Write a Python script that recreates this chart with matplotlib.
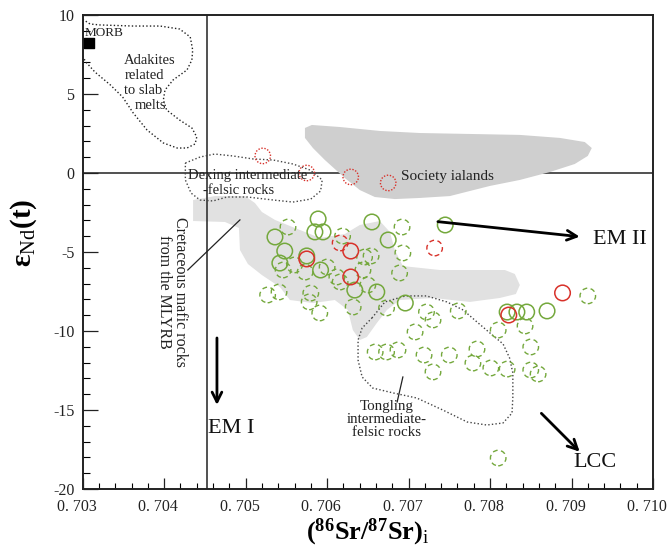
import matplotlib
matplotlib.use('Agg')
import matplotlib.pyplot as plt
from matplotlib.patches import Polygon
from matplotlib.ticker import FixedLocator, MultipleLocator
from matplotlib.transforms import ScaledTranslation

plt.rcParams['font.family'] = ['Liberation Serif', 'DejaVu Serif']
plt.rcParams['mathtext.fontset'] = 'custom'
plt.rcParams['mathtext.rm'] = 'Liberation Serif'
plt.rcParams['mathtext.it'] = 'Liberation Serif:italic'
plt.rcParams['mathtext.bf'] = 'Liberation Serif:bold'

# ---------------- data ----------------
green_solid_sr = [0.70589, 0.70585, 0.70595, 0.70536, 0.70548, 0.70542, 0.70575, 0.70592,
                  0.70655, 0.70675, 0.70745, 0.70634, 0.70661, 0.70696, 0.70821, 0.70833,
                  0.70845, 0.70870]
green_solid_nd = [-2.91, -3.73, -3.73, -4.05, -4.94, -5.70, -5.25, -6.14,
                  -3.10, -4.24, -3.29, -7.41, -7.53, -8.23, -8.80, -8.80,
                  -8.80, -8.73]

green_dash_sr = [0.70552, 0.70619, 0.70692, 0.70693, 0.70654, 0.70546, 0.70560, 0.70573,
                 0.70600, 0.70612, 0.70644, 0.70689, 0.70616, 0.70646, 0.70650, 0.70527,
                 0.70541, 0.70580, 0.70578, 0.70591, 0.70632, 0.70673, 0.70722, 0.70761,
                 0.70708, 0.70730, 0.70719, 0.70750, 0.70730, 0.70659, 0.70673, 0.70687,
                 0.70784, 0.70779, 0.70810, 0.70801, 0.70821, 0.70843, 0.70850, 0.70850,
                 0.70859, 0.70920, 0.70810]
green_dash_nd = [-3.42, -3.99, -3.42, -5.06, -5.25, -6.14, -5.82, -6.27,
                 -5.95, -6.58, -6.14, -6.33, -6.90, -5.32, -7.09, -7.72,
                 -7.53, -7.60, -8.16, -8.86, -8.48, -8.54, -8.80, -8.73,
                 -10.06, -9.30, -11.52, -11.52, -12.59, -11.33, -11.33, -11.20,
                 -11.14, -12.03, -9.94, -12.34, -12.41, -9.68, -11.01, -12.47,
                 -12.72, -7.78, -18.04]

red_solid_sr = [0.70575, 0.70629, 0.70629, 0.70889, 0.70823]
red_solid_nd = [-5.44, -4.94, -6.58, -7.59, -8.99]

red_dash_sr = [0.70616, 0.70732]
red_dash_nd = [-4.43, -4.75]

red_dot_sr = [0.70521, 0.70575, 0.70629, 0.70675]
red_dot_nd = [1.08, 0.00, -0.25, -0.63]

morb_sr = [0.70308]
morb_nd = [8.25]

# field outlines (Sr, Nd)
adakite_sr = [0.70300, 0.70309, 0.70321, 0.70362, 0.70395, 0.70419, 0.70432, 0.70435, 0.70434,
              0.70428, 0.70411, 0.70401, 0.70399, 0.70403, 0.70419, 0.70434, 0.70440, 0.70438,
              0.70428, 0.70416, 0.70399, 0.70379, 0.70362, 0.70349, 0.70334, 0.70315, 0.70305,
              0.70300]
adakite_nd = [9.73, 9.43, 9.37, 9.30, 9.30, 9.11, 8.61, 7.78, 7.15,
              6.52, 5.89, 5.25, 4.62, 3.99, 3.35, 2.85, 2.28, 1.84,
              1.58, 1.58, 1.90, 2.72, 3.80, 4.81, 5.57, 6.39, 6.96,
              7.34]

dexing_sr = [0.70426, 0.70444, 0.70462, 0.70484, 0.70509, 0.70534, 0.70558, 0.70579, 0.70594,
             0.70592, 0.70580, 0.70558, 0.70534, 0.70502, 0.70477, 0.70460, 0.70444, 0.70433,
             0.70426, 0.70426]
dexing_nd = [0.63, 1.01, 1.20, 1.08, 0.89, 0.82, 0.57, 0.19, -0.44,
             -1.14, -1.65, -1.84, -1.71, -1.52, -1.52, -1.77, -1.71, -1.27,
             -0.44, 0.63]

tongling_sr = [0.70655, 0.70671, 0.70696, 0.70722, 0.70747, 0.70767, 0.70784, 0.70800, 0.70816,
               0.70824, 0.70828, 0.70828, 0.70827, 0.70816, 0.70796, 0.70772, 0.70742, 0.70710,
               0.70681, 0.70656, 0.70643, 0.70638, 0.70638, 0.70643, 0.70655]
tongling_nd = [-9.18, -8.16, -7.78, -7.78, -8.16, -8.67, -9.43, -10.13, -10.82,
               -11.71, -12.66, -14.18, -15.19, -15.82, -15.95, -15.76, -15.00, -14.24,
               -13.92, -13.61, -12.91, -11.84, -10.57, -9.81, -9.18]

society_sr = [0.705728, 0.705813, 0.706157, 0.706648, 0.707139, 0.707752, 0.708366, 0.708857,
              0.709163, 0.709249, 0.709200, 0.709040, 0.708734, 0.708366, 0.707998, 0.707752,
              0.707507, 0.707139, 0.706832, 0.706586, 0.706402, 0.706218, 0.705973, 0.705826,
              0.705728]
society_nd = [2.85, 3.04, 2.91, 2.66, 2.53, 2.47, 2.41, 2.22,
              1.96, 1.58, 1.08, 0.57, 0.06, -0.44, -0.82, -1.14,
              -1.46, -1.58, -1.65, -1.52, -1.08, -0.32, 0.82, 1.58,
              2.22]

cret_sr = [0.704355, 0.704624, 0.704992, 0.705114, 0.705200, 0.705360, 0.705605, 0.705912,
           0.706218, 0.706402, 0.706648, 0.706770, 0.706832, 0.706930, 0.707384, 0.708182,
           0.708304, 0.708366, 0.708317, 0.708120, 0.707752, 0.707298, 0.706893, 0.706734,
           0.706611, 0.706488, 0.706402, 0.706316, 0.706255, 0.706095, 0.705826, 0.705544,
           0.705421, 0.705200, 0.705028, 0.704930, 0.704918, 0.704746, 0.704355]
cret_nd = [-1.71, -1.46, -1.46, -1.90, -2.47, -2.97, -3.48, -4.11,
           -3.86, -3.29, -3.04, -3.73, -4.87, -5.89, -6.14, -6.14,
           -6.39, -7.09, -7.66, -7.91, -8.16, -7.91, -8.04, -8.67,
           -9.49, -10.38, -10.57, -9.94, -8.67, -8.04, -8.23, -8.04,
           -7.22, -6.46, -5.76, -4.87, -3.48, -3.10, -3.04]

ref_sr = 0.70452
ref_nd = 0.0

x_ticks = [0.703, 0.704, 0.705, 0.706, 0.707, 0.708, 0.709, 0.710]
x_tick_labels = ['0. 703', '0. 704', '0. 705', '0. 706', '0. 707', '0. 708', '0. 709', '0. 710']
y_ticks = [-20, -15, -10, -5, 0, 5, 10]
y_tick_labels = ['-20', '-15', '-10', '-5', '0', '5', '10']

# ---------------- figure ----------------
GREEN = '#74a83c'
RED = '#d8312a'
fig = plt.figure(figsize=(6.68, 5.55), dpi=100)
ax = fig.add_axes([0.1238, 0.1189, 0.8537, 0.8541])
ax.set_xlim(0.703, 0.710)
ax.set_ylim(-20, 10)

ax.add_patch(Polygon(list(zip(cret_sr, cret_nd)), closed=True, facecolor='#e1e1e1',
                     edgecolor='none', zorder=1))
ax.axvline(ref_sr, color='#333333', lw=1.2, zorder=1.5)
ax.axhline(ref_nd, color='#333333', lw=1.2, zorder=1.5)
ax.add_patch(Polygon(list(zip(society_sr, society_nd)), closed=True, facecolor='#cfcfcf',
                     edgecolor='none', zorder=2))

dot = (0, (1, 1.6))
ax.plot(adakite_sr, adakite_nd, color='#222222', lw=1.0, ls=dot, zorder=2.5)
ax.plot(dexing_sr, dexing_nd, color='#444444', lw=1.0, ls=dot, zorder=2.5)
ax.plot(tongling_sr, tongling_nd, color='#444444', lw=1.0, ls=dot, zorder=2.5)

S = 125
ax.scatter(green_dash_sr, green_dash_nd, s=S, facecolors='none', edgecolors=GREEN,
           linewidths=1.0, linestyle=(0, (3.5, 2.5)), zorder=3)
ax.scatter(green_solid_sr, green_solid_nd, s=S, facecolors='none', edgecolors=GREEN,
           linewidths=1.1, zorder=3.2)
ax.scatter(red_dash_sr, red_dash_nd, s=S, facecolors='none', edgecolors=RED,
           linewidths=1.0, linestyle=(0, (3.5, 2.5)), zorder=3.3)
ax.scatter(red_solid_sr, red_solid_nd, s=S, facecolors='none', edgecolors=RED,
           linewidths=1.1, zorder=3.4)
ax.scatter(red_dot_sr, red_dot_nd, s=S, facecolors='none', edgecolors=RED,
           linewidths=1.0, linestyle=(0, (1, 1.2)), zorder=3.4)
ax.scatter(morb_sr, morb_nd, s=45, marker='s', color='black', zorder=4)

# leader lines
ax.plot([0.70429, 0.70493], [-6.14, -2.97], color='#222222', lw=0.9, zorder=4)
ax.plot([0.70693, 0.70686], [-12.91, -14.49], color='#222222', lw=0.9, zorder=4)

# arrows
aprops = dict(arrowstyle='->,head_length=0.7,head_width=0.35', lw=2.0, color='black',
              shrinkA=0, shrinkB=0)
ax.annotate('', xy=(0.70910, -4.03), xytext=(0.70736, -3.08), arrowprops=aprops, zorder=5)
ax.annotate('', xy=(0.704648, -14.68), xytext=(0.704648, -10.44), arrowprops=aprops, zorder=5)
ax.annotate('', xy=(0.70910, -17.64), xytext=(0.70863, -15.21), arrowprops=aprops, zorder=5)

tc = '#222222'
ax.text(0.70302, 8.86, 'MORB', fontsize=9.5, color=tc, ha='left', va='center', zorder=6)
ax.text(0.70351, 7.15, 'Adakites', fontsize=10.5, color=tc, ha='left', va='center', zorder=6)
ax.text(0.70351, 6.20, 'related', fontsize=10.5, color=tc, ha='left', va='center', zorder=6)
ax.text(0.70351, 5.25, 'to slab', fontsize=10.5, color=tc, ha='left', va='center', zorder=6)
ax.text(0.70364, 4.30, 'melts', fontsize=10.5, color=tc, ha='left', va='center', zorder=6)
ax.text(0.70503, -0.13, 'Dexing intermediate', fontsize=10.5, color=tc, ha='center', va='center', zorder=6)
ax.text(0.70491, -1.08, '-felsic rocks', fontsize=10.5, color=tc, ha='center', va='center', zorder=6)
ax.text(0.70691, -0.25, 'Society ialands', fontsize=11, color=tc, ha='left', va='center', zorder=6)
ax.text(0.70410, -7.53, 'Cretaceous mafic rocks\nfrom the MLYRB', fontsize=11.5, color=tc,
        ha='center', va='center', rotation=270, linespacing=1.0, zorder=6)
ax.text(0.70673, -15.63, 'Tongling\nintermediate-\nfelsic rocks', fontsize=10.8, color=tc,
        ha='center', va='center', linespacing=1.0, zorder=6)
ax.text(0.70926, -4.24, 'EM II', fontsize=16, color='#111111', ha='left', va='center', zorder=6)
ax.text(0.70454, -16.14, 'EM I', fontsize=16, color='#111111', ha='left', va='center', zorder=6)
ax.text(0.70902, -18.35, 'LCC', fontsize=16, color='#111111', ha='left', va='center', zorder=6)

# axes styling
for sp in ax.spines.values():
    sp.set_linewidth(1.4)
    sp.set_color('#222222')
ax.xaxis.set_major_locator(FixedLocator(x_ticks))
ax.set_xticklabels(x_tick_labels)
ax.yaxis.set_major_locator(FixedLocator(y_ticks))
ax.set_yticklabels(y_tick_labels)
ax.xaxis.set_minor_locator(MultipleLocator(0.0002))
ax.yaxis.set_minor_locator(MultipleLocator(1))
ax.tick_params(axis='x', which='major', direction='in', length=8, width=0.9, labelsize=11.5,
               pad=7, top=False, colors='#222222')
ax.tick_params(axis='x', which='minor', direction='in', length=4, width=0.8, top=False)
ax.tick_params(axis='y', which='major', direction='in', length=11, width=0.9, labelsize=11.5,
               pad=6, right=False, colors='#222222')
ax.tick_params(axis='y', which='minor', direction='in', length=5, width=0.8, right=False)

shift = ScaledTranslation(-0.06, 0, fig.dpi_scale_trans)
for lbl in ax.get_xticklabels():
    lbl.set_transform(lbl.get_transform() + shift)

ax.set_xlabel(r'$\mathbf{(^{86}Sr/^{87}Sr)}_{\mathrm{i}}$', fontsize=19)
ax.xaxis.set_label_coords(0.50, -0.058)
ax.set_ylabel(r'$\mathbf{ε}_{\mathrm{Nd}}\mathbf{(t)}$', fontsize=21)
ax.yaxis.set_label_coords(-0.077, 0.54)

fig.savefig('out.png', dpi=100)
